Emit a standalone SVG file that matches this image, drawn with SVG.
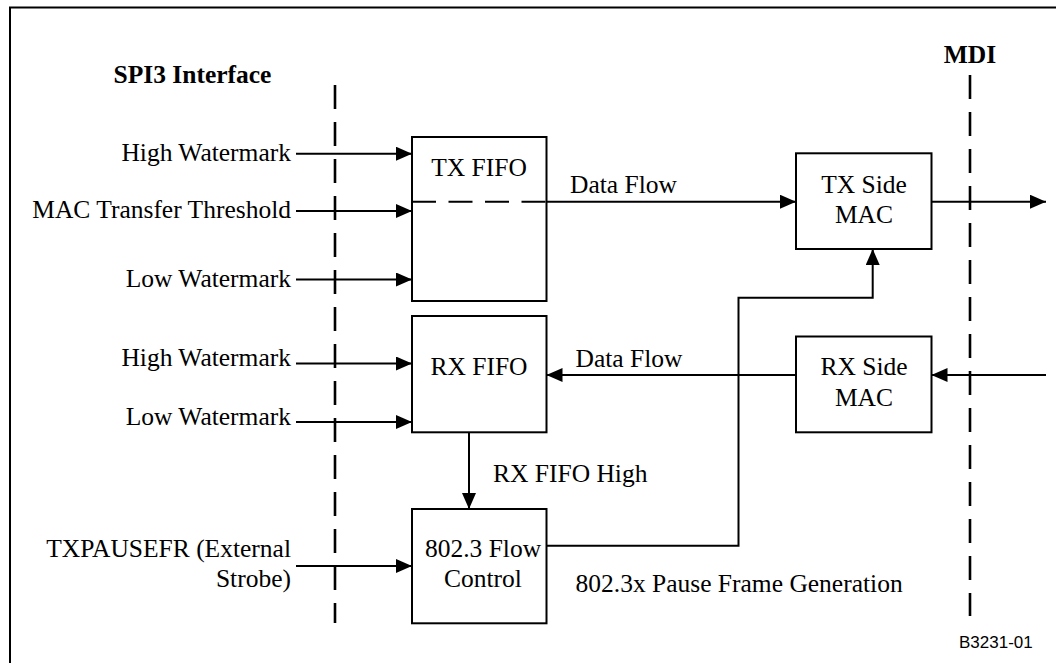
<svg xmlns="http://www.w3.org/2000/svg" width="1056" height="663" viewBox="0 0 1056 663">
<style>
.t{font-family:"Liberation Serif","Times New Roman",serif;font-size:25.5px;fill:#000}
.b{font-weight:bold}
.m{text-anchor:middle}
.e{text-anchor:end}
.box{fill:#fff;stroke:#000;stroke-width:2}
.ln{fill:none;stroke:#000;stroke-width:2}
.dash{fill:none;stroke:#000;stroke-width:2.6;stroke-dasharray:24 13}
.arr{marker-end:url(#ah)}
</style>
<defs>
<marker id="ah" markerUnits="userSpaceOnUse" markerWidth="16" markerHeight="14" refX="16" refY="7" orient="auto">
<path d="M0,0 L16,7 L0,14 z" fill="#000"/>
</marker>
</defs>
<rect width="1056" height="663" fill="#fff"/>
<rect x="10" y="7.5" width="1100" height="700" fill="none" stroke="#000" stroke-width="2"/>

<g id="boundaries">
<line class="dash" x1="335" y1="85" x2="335" y2="623"/>
<line class="dash" x1="970" y1="75" x2="970" y2="616"/>
<text class="t b" x="113.5" y="83">SPI3 Interface</text>
<text class="t b m" x="970" y="63">MDI</text>
</g>

<g id="connectors">
<line class="ln arr" x1="296" y1="153.7" x2="412" y2="153.7"/>
<line class="ln arr" x1="296" y1="211" x2="412" y2="211"/>
<line class="ln arr" x1="296" y1="279.5" x2="412" y2="279.5"/>
<line class="ln arr" x1="296" y1="363.5" x2="412" y2="363.5"/>
<line class="ln arr" x1="296" y1="422" x2="412" y2="422"/>
<line class="ln arr" x1="296" y1="566" x2="412" y2="566"/>
<line class="ln arr" x1="546.5" y1="201.7" x2="796" y2="201.7"/>
<line class="ln arr" x1="931.5" y1="201.7" x2="1046" y2="201.7"/>
<line class="ln arr" x1="1046" y1="375" x2="931.5" y2="375"/>
<line class="ln arr" x1="796" y1="375" x2="546.5" y2="375"/>
<line class="ln arr" x1="469" y1="432.3" x2="469" y2="509"/>
<polyline class="ln arr" points="546.5,545.7 738.5,545.7 738.5,297.7 872.7,297.7 872.7,249"/>
</g>

<g id="labels">
<text class="t e" x="291" y="160.5">High Watermark</text>
<text class="t e" x="291" y="218">MAC Transfer Threshold</text>
<text class="t e" x="291" y="287">Low Watermark</text>
<text class="t e" x="291" y="366">High Watermark</text>
<text class="t e" x="291" y="424.5">Low Watermark</text>
<text class="t e" x="291" y="556.7">TXPAUSEFR (External</text>
<text class="t e" x="291" y="587.3">Strobe)</text>
<text class="t" x="570" y="193.3">Data Flow</text>
<text class="t" x="575.5" y="366.7">Data Flow</text>
<text class="t" x="493" y="481.7">RX FIFO High</text>
<text class="t" x="575.5" y="591.7">802.3x Pause Frame Generation</text>
<text x="959" y="648.3" style="font-family:'Liberation Sans',Arial,sans-serif;font-size:17px;fill:#000">B3231-01</text>
</g>

<g id="tx-fifo">
<rect class="box" x="412" y="137" width="134.5" height="164"/>
<line fill="none" stroke="#000" stroke-width="2" stroke-dasharray="24 12.5" x1="412" y1="201.7" x2="546.5" y2="201.7"/>
<text class="t m" x="479" y="175.7">TX FIFO</text>
</g>

<g id="rx-fifo">
<rect class="box" x="412" y="316" width="134.5" height="116.3"/>
<text class="t m" x="479" y="375">RX FIFO</text>
</g>

<g id="flow-control">
<rect class="box" x="412" y="509" width="134.5" height="114.3"/>
<text class="t m" x="483" y="556.7">802.3 Flow</text>
<text class="t m" x="483" y="587.3">Control</text>
</g>

<g id="tx-side-mac">
<rect class="box" x="796" y="153.3" width="135.5" height="95.7"/>
<text class="t m" x="864" y="192.7">TX Side</text>
<text class="t m" x="864" y="223.3">MAC</text>
</g>

<g id="rx-side-mac">
<rect class="box" x="796" y="336.5" width="135.5" height="95.8"/>
<text class="t m" x="864" y="375">RX Side</text>
<text class="t m" x="864" y="406">MAC</text>
</g>
</svg>
